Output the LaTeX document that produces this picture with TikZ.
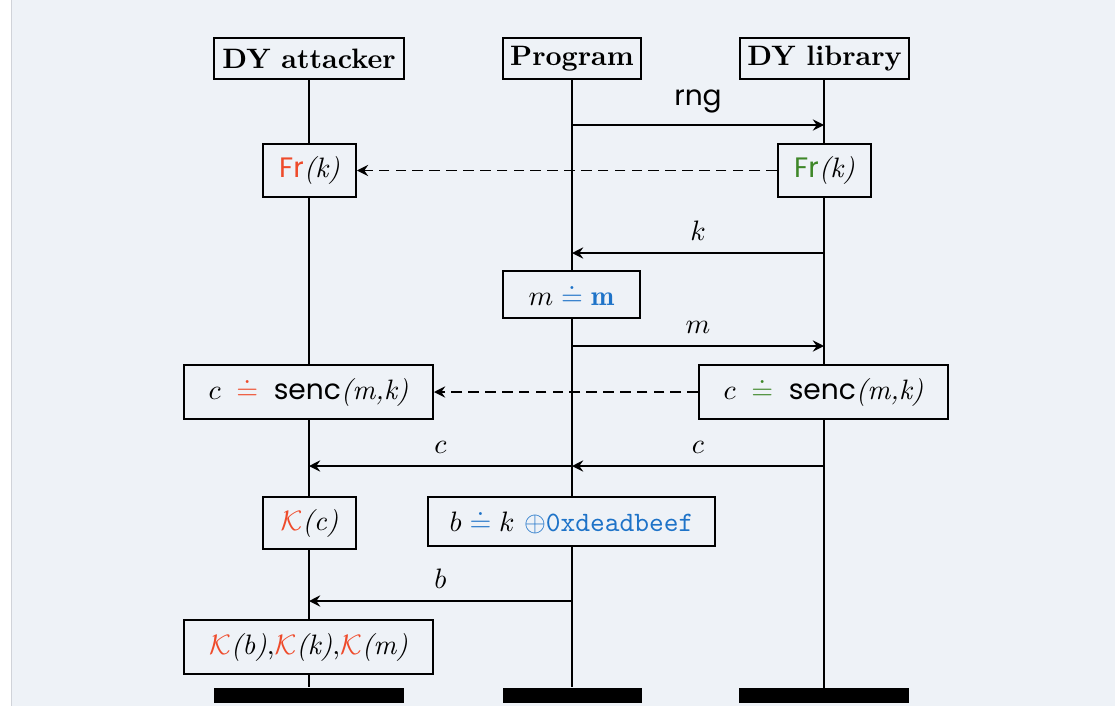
\documentclass[tikz,border=0pt]{standalone}
\usepackage{fontspec}
\newfontfamily\geo{Poppins}
\usetikzlibrary{arrows.meta}
\definecolor{bgc}{RGB}{238,242,247}
\definecolor{edgegray}{RGB}{208,211,217}
\definecolor{attred}{RGB}{238,75,43}
\definecolor{libgreen}{RGB}{62,135,40}
\definecolor{progblue}{RGB}{30,115,200}
\def\PX{0.356pt}
\newcommand\geotxt[1]{\mbox{\geo #1}}
\newcommand\crel[2]{\mathrel{\textcolor{#1}{#2}}}
\newcommand\args[1]{\mbox{\itshape(#1)}}
\begin{document}
\begin{tikzpicture}[x=0.356pt,y=-0.356pt,line width=0.7pt,
  box/.style 2 args={draw,fill=bgc,inner sep=0pt,
    minimum width=#1*\PX,minimum height=#2*\PX},
  head/.style={box={#1}{41},font=\bfseries},
  endbar/.style={fill=black,inner sep=0pt,minimum width=#1*\PX,minimum height=15*\PX},
  msg/.style={-{Stealth[length=4pt,width=4pt,inset=1.4pt]}},
  dmsg/.style={msg,dash pattern=on 3.8pt off 2.2pt},
  lbl/.style={above=4pt,inner sep=0pt}]
\useasboundingbox (0,0) rectangle (1115,706);
% page background
\fill[white] (0,0) rectangle (1115,706);
\fill[bgc] (12,0) rectangle (1115,706);
\draw[edgegray,line width=0.5pt] (11.5,0) -- (11.5,706);

% participants and the bars that close their lifelines
\node[head=190] (hA) at (309,58.5) {DY attacker};
\node[head=138] (hP) at (572,58.5) {Program};
\node[head=169] (hL) at (824.5,58.5) {DY library};
\node[endbar=190] (eA) at (309,695.5) {};
\node[endbar=139] (eP) at (572,695.5) {};
\node[endbar=170] (eL) at (824,695.5) {};
\draw (hA.south) -- (eA.north);
\draw (hP.south) -- (eP.north);
\draw (824,79) coordinate (tL) -- (824,688) coordinate (bL);

% state boxes on the lifelines
\node[box={93}{53}] (frA) at (309.5,170.5) {$\textcolor{attred}{\geotxt{Fr}}\args{k}$};
\node[box={93}{53}] (frL) at (824.5,170.5) {$\textcolor{libgreen}{\geotxt{Fr}}\args{k}$};
\node[box={137}{47}] (mdef) at (571.5,294.5)
  {$m \crel{progblue}{\doteq} \textcolor{progblue}{\mathbf{m}}$};
\node[box={249}{54}] (cA) at (308.5,392)
  {$c \;\crel{attred}{\doteq}\; \geotxt{senc}\args{m,k}$};
\node[box={249}{54}] (cL) at (823.5,392)
  {$c \;\crel{libgreen}{\doteq}\; \geotxt{senc}\args{m,k}$};
\node[box={93}{52}] (kc) at (309.5,523) {$\textcolor{attred}{\mathcal{K}}\args{c}$};
\node[box={287}{49}] (bdef) at (571.5,521.5)
  {$b \crel{progblue}{\doteq} k$ \textcolor{progblue}{$\oplus$\texttt{0xdeadbeef}}};
\node[box={249}{54}] (kall) at (308.5,647)
  {$\textcolor{attred}{\mathcal{K}}\args{b}$,$\textcolor{attred}{\mathcal{K}}\args{k}$,$\textcolor{attred}{\mathcal{K}}\args{m}$};

% message endpoints on the lifelines
\coordinate (P1) at (572,125);  \coordinate (L1) at (824,125);
\coordinate (P2) at (572,253);  \coordinate (L2) at (824,253);
\coordinate (P3) at (572,346);  \coordinate (L3) at (824,346);
\coordinate (A4) at (309,466);  \coordinate (P4) at (572,466);  \coordinate (L4) at (824,466);
\coordinate (A5) at (309,601);  \coordinate (P5) at (572,601);

% messages
\draw[msg] (P1) -- node[lbl] {\geo rng} (L1);
\draw[dmsg] (frL.west) -- (frA.east);
\draw[msg] (L2) -- node[lbl] {$k$} (P2);
\draw[msg] (P3) -- node[lbl] {$m$} (L3);
\draw[dmsg] (cL.west) -- (cA.east);
\draw[msg] (L4) -- node[lbl] {$c$} (P4);
\draw[msg] (P4) -- node[lbl] {$c$} (A4);
\draw[msg] (P5) -- node[lbl] {$b$} (A5);
\end{tikzpicture}
\end{document}
